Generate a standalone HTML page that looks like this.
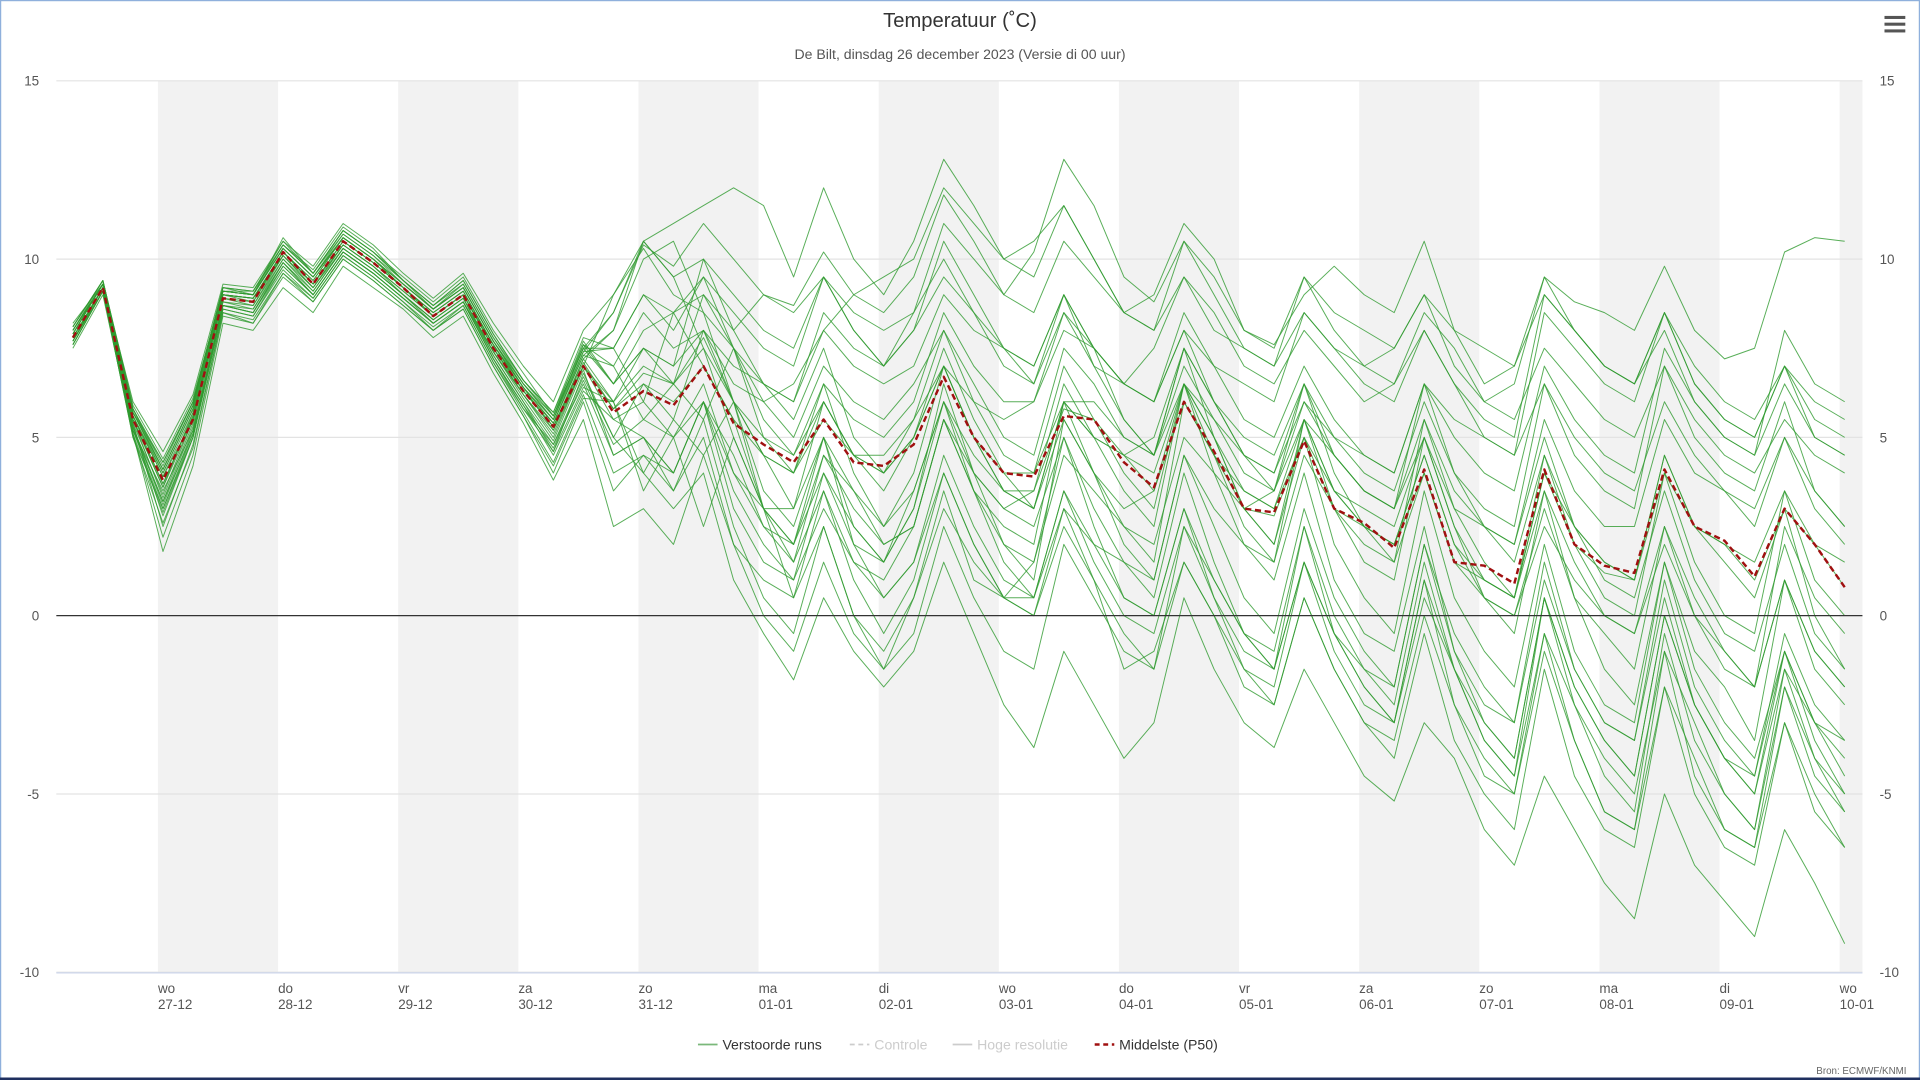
<!DOCTYPE html>
<html><head><meta charset="utf-8"><style>
html,body{margin:0;padding:0;background:#fff;width:1920px;height:1080px;overflow:hidden}
svg{display:block;font-family:"Liberation Sans","DejaVu Sans",sans-serif}
</style></head><body>
<svg id="chart" width="1920" height="1080" viewBox="0 0 1568 882" xmlns="http://www.w3.org/2000/svg">
<rect x="0.5" y="0.5" width="1567" height="881" fill="#fff" stroke="#8fb0dc" stroke-width="1"/>
<line x1="0" y1="881" x2="1568" y2="881" stroke="#1f2f5f" stroke-width="2"/>
<g id="bands"></g>
<g id="grid"></g>
<g id="members"></g>
<g id="median"></g>
<g id="axes"></g>
<text x="784" y="22" text-anchor="middle" font-size="16.5" fill="#333">Temperatuur (˚C)</text>
<text x="784" y="48" text-anchor="middle" font-size="11.5" fill="#555">De Bilt, dinsdag 26 december 2023 (Versie di 00 uur)</text>
<g>
<rect x="1539" y="13" width="17" height="2.5" fill="#555"/><rect x="1539" y="18.5" width="17" height="2.5" fill="#555"/><rect x="1539" y="24" width="17" height="2.5" fill="#555"/>
</g>
<g font-size="11.5">
<g><line x1="570" y1="853" x2="586" y2="853" stroke="#7ab87a" stroke-width="1.5"/><text x="590" y="857" fill="#333">Verstoorde runs</text></g>
<g><line x1="694" y1="853" x2="710" y2="853" stroke="#ccc" stroke-width="1.5" stroke-dasharray="4,3"/><text x="714" y="857" fill="#ccc">Controle</text></g>
<g><line x1="778" y1="853" x2="794" y2="853" stroke="#ccc" stroke-width="1.5"/><text x="798" y="857" fill="#ccc">Hoge resolutie</text></g>
<g><line x1="894" y1="853" x2="910" y2="853" stroke="#a01010" stroke-width="2" stroke-dasharray="4,3"/><text x="914" y="857" fill="#333">Middelste (P50)</text></g>
</g>
<text x="1557" y="877" text-anchor="end" font-size="8" fill="#666">Bron: ECMWF/KNMI</text>
</svg>
<script>
const dayNames = ["wo","do","vr","za","zo","ma","di","wo","do","vr","za","zo","ma","di","wo"];
const dayDates = ["27-12","28-12","29-12","30-12","31-12","01-01","02-01","03-01","04-01","05-01","06-01","07-01","08-01","09-01","10-01"];
const yTicks = [15,10,5,0,-5,-10];
const startHour = 7;
const stepHours = 6;
const median = [7.8,9.2,5.5,3.8,5.5,8.9,8.8,10.2,9.3,10.5,9.9,9.2,8.4,9.0,7.5,6.3,5.3,7.0,5.7,6.3,5.9,7.0,5.4,4.8,4.3,5.5,4.3,4.2,4.8,6.7,5.0,4.0,3.9,5.6,5.5,4.3,3.6,6.0,4.6,3.0,2.9,4.9,3.0,2.6,1.9,4.1,1.5,1.4,0.9,4.1,2.0,1.4,1.2,4.1,2.5,2.1,1.1,3.0,2.0,0.8];
const m01 = [8.0,9.4,5.8,4.2,6.0,9.2,9.0,10.6,9.6,10.8,10.2,9.5,8.8,9.5,8.0,6.8,5.6,7.5,8.5,10.4,9.8,11.0,10.0,9.0,8.7,10.2,9.0,8.5,9.5,11.8,10.5,9.0,10.2,12.8,11.5,9.5,8.8,10.5,9.5,8.0,7.6,9.0,9.8,9.0,8.5,10.5,8.0,6.5,7.0,9.5,8.8,8.5,8.0,9.8,8.0,7.2,7.5,10.2,10.6,10.5];
const m02 = [7.6,9.1,5.0,3.0,5.0,8.6,8.4,9.8,9.0,10.2,9.6,8.9,8.2,8.8,7.2,5.8,4.8,6.5,4.5,5.0,4.0,6.0,3.5,2.0,1.0,3.0,1.5,0.5,1.5,4.0,2.0,0.5,0.0,2.5,1.0,-0.5,-1.5,1.5,0.0,-1.5,-2.5,0.5,-1.5,-3.0,-4.0,-0.5,-3.5,-5.0,-6.0,-1.5,-4.5,-6.0,-6.5,-2.0,-5.0,-6.5,-7.0,-3.0,-5.5,-6.5];
const m03 = [8.2,9.3,6.0,4.6,6.2,9.3,9.2,10.5,9.8,11.0,10.4,9.6,8.9,9.6,8.2,7.0,6.0,8.0,9.0,10.5,9.5,10.0,8.0,6.5,5.5,7.5,5.0,4.0,5.5,8.0,6.0,4.5,4.0,7.0,5.5,4.0,3.0,6.5,5.0,3.0,2.0,5.0,2.0,0.5,-0.5,3.5,0.5,-1.0,-2.0,2.0,-1.0,-2.5,-3.0,1.5,-1.0,-2.0,-3.5,1.0,-1.5,-2.5];
const m04 = [7.7,9.2,5.3,3.2,5.3,8.8,8.6,9.9,9.1,10.3,9.7,9.0,8.3,8.9,7.3,6.0,4.6,6.8,5.0,6.5,5.5,8.0,7.0,6.5,6.0,8.5,7.5,7.0,8.0,9.5,8.5,7.5,7.0,9.0,7.5,5.5,4.5,7.5,6.0,4.5,3.5,6.5,4.0,2.5,1.5,5.5,3.0,1.5,0.5,4.5,2.0,0.5,0.0,4.0,1.5,0.0,-0.5,3.5,1.0,0.0];
const m05 = [7.9,9.3,5.6,3.9,5.5,9.0,8.9,10.1,9.3,10.4,9.8,9.1,8.4,9.0,7.6,6.4,5.2,7.2,6.0,7.0,6.5,7.5,5.0,3.0,2.0,5.0,2.5,1.5,3.0,6.5,4.0,2.0,1.0,5.5,4.0,2.5,1.5,6.0,4.5,2.5,1.5,5.5,4.5,3.5,3.0,6.5,5.0,4.0,3.5,7.0,5.5,4.5,4.0,7.5,6.0,5.0,4.5,8.0,6.5,6.0];
const m06 = [7.8,9.2,5.4,2.5,4.8,8.5,8.2,9.5,8.8,10.0,9.4,8.7,8.0,8.6,7.0,5.6,4.0,6.0,3.5,4.5,3.5,5.5,2.5,0.5,-0.5,2.5,0.0,-1.0,0.5,3.5,1.0,0.5,1.5,4.5,3.5,2.5,2.0,5.0,4.0,3.0,3.5,6.0,5.0,4.5,4.0,6.5,4.0,2.5,2.0,5.0,2.5,1.0,0.5,3.5,1.0,-0.5,-1.0,2.0,-0.5,-1.5];
const m07 = [8.1,9.4,5.9,4.4,6.1,9.1,9.1,10.4,9.7,10.9,10.3,9.4,8.7,9.4,7.9,6.6,5.7,7.8,7.5,9.0,8.5,9.5,8.5,7.5,7.0,9.5,8.0,7.0,8.0,10.5,9.0,7.5,6.5,9.0,7.0,5.5,4.5,7.5,5.0,3.0,2.0,5.5,3.0,1.5,1.0,5.0,2.5,0.5,-0.5,3.5,0.5,-1.5,-2.5,1.5,-1.5,-3.0,-4.0,-1.0,-3.0,-4.5];
const m08 = [7.5,9.0,5.1,1.8,4.2,8.2,8.0,9.2,8.5,9.8,9.2,8.6,7.8,8.4,6.8,5.4,3.8,5.5,2.5,3.0,2.0,4.5,2.0,1.0,0.5,3.5,1.5,1.0,2.5,5.5,3.5,2.0,1.5,5.0,3.0,1.5,0.5,4.0,1.5,-0.5,-1.5,2.5,0.0,-1.5,-2.5,1.5,-1.5,-3.5,-4.5,0.5,-2.5,-4.5,-5.5,-0.5,-3.5,-5.0,-6.0,-1.5,-4.0,-5.0];
const m09 = [8.0,9.3,5.7,4.0,5.8,9.1,9.0,10.3,9.5,10.6,10.0,9.3,8.6,9.2,7.7,6.5,5.5,7.6,7.0,8.5,7.5,8.0,6.0,4.5,4.0,6.5,5.5,5.0,6.0,8.5,7.0,6.0,6.0,8.0,7.5,6.5,6.0,8.5,7.0,5.5,5.0,7.0,5.5,4.5,4.0,6.5,5.5,5.0,4.5,8.5,7.5,6.5,6.0,8.5,6.5,5.5,5.0,7.0,5.5,5.0];
const m10 = [7.7,9.1,5.2,3.5,5.2,8.7,8.6,10.0,9.2,10.4,9.8,9.0,8.2,8.8,7.4,6.2,5.0,7.0,5.5,6.0,5.0,6.5,4.0,2.5,2.0,4.5,3.0,2.0,2.5,5.5,3.5,2.5,2.0,6.0,5.0,3.5,2.5,6.5,4.0,2.0,1.0,4.0,1.0,-0.5,-1.0,2.5,-1.0,-3.0,-4.0,0.5,-2.0,-3.5,-4.5,0.0,-2.5,-4.0,-5.0,-1.5,-3.0,-3.5];
const m11 = [7.9,9.3,5.5,3.6,5.7,9.0,8.9,10.2,9.4,10.6,10.0,9.2,8.5,9.1,7.6,6.3,5.4,7.3,8.0,10.0,10.5,8.5,7.5,6.0,5.0,7.0,6.0,5.5,6.5,8.0,6.5,5.0,4.5,7.5,6.5,5.0,4.5,7.0,5.5,4.0,3.5,5.5,3.5,2.5,2.0,4.5,2.0,1.0,0.5,4.0,2.5,1.5,1.0,4.5,2.5,2.0,1.5,3.5,2.0,1.5];
const m12 = [7.8,9.2,5.3,2.8,5.0,8.8,8.7,10.0,9.1,10.3,9.7,9.0,8.3,8.9,7.4,6.1,4.9,6.9,4.5,5.0,3.5,5.0,2.0,0.0,-1.0,1.5,-0.5,-1.5,0.5,3.0,1.5,0.5,0.5,3.0,2.0,1.5,1.0,4.5,3.0,2.0,1.5,4.5,3.0,2.0,1.5,4.0,1.5,0.5,0.0,3.0,0.5,-0.5,-1.5,2.5,0.0,-1.0,-2.0,2.5,0.5,-0.5];
const m13 = [8.1,9.4,5.8,4.1,5.9,9.2,9.1,10.5,9.6,10.7,10.1,9.4,8.7,9.3,7.8,6.6,5.6,7.5,6.5,7.5,7.0,8.0,6.5,6.0,6.5,8.0,9.0,9.5,10.0,12.0,11.0,10.0,10.5,11.5,10.0,8.5,8.0,9.5,8.0,7.5,7.0,8.5,7.5,7.0,7.5,9.0,8.0,7.5,7.0,9.0,8.0,7.0,6.5,8.0,6.0,5.0,4.5,6.5,5.0,4.5];
const m14 = [7.6,9.1,5.1,2.2,4.5,8.4,8.2,9.6,8.9,10.1,9.5,8.8,8.0,8.7,7.1,5.7,4.3,6.2,4.0,4.5,4.0,6.0,4.0,3.0,3.0,6.0,4.5,4.0,5.0,7.5,5.5,4.0,3.0,6.0,4.0,2.0,1.0,4.5,2.5,0.5,-0.5,3.0,0.5,-1.0,-2.0,2.0,-1.0,-2.5,-3.0,1.5,-1.5,-3.0,-3.5,1.0,-2.0,-3.5,-4.5,-0.5,-2.5,-3.5];
const m15 = [8.0,9.3,5.6,3.7,5.6,9.0,8.9,10.2,9.3,10.5,9.9,9.2,8.4,9.0,7.5,6.3,5.3,7.1,5.8,6.5,6.0,7.0,5.5,4.5,4.0,5.5,4.5,4.5,5.5,7.0,5.0,4.0,4.0,6.0,6.0,5.0,4.5,6.5,5.0,3.5,3.0,5.5,3.5,3.0,2.5,5.0,3.0,2.5,2.0,5.5,3.5,2.5,2.5,5.5,4.0,3.5,2.5,5.0,3.5,2.5];
const m16 = [7.8,9.2,5.5,3.3,5.4,8.9,8.7,10.1,9.2,10.3,9.7,9.0,8.3,8.9,7.4,6.2,5.1,7.0,9.0,10.3,9.0,8.5,6.0,3.5,2.5,5.0,2.0,0.5,1.5,4.5,2.5,1.0,0.5,3.5,2.0,0.5,0.0,3.0,1.0,-0.5,-1.0,2.5,-0.5,-2.0,-3.0,1.0,-2.5,-4.0,-5.0,-0.5,-3.5,-5.5,-6.0,-1.0,-4.5,-6.0,-6.5,-2.0,-4.5,-5.5];
const m17 = [7.9,9.3,5.4,3.4,5.5,9.0,8.8,10.1,9.2,10.4,9.8,9.1,8.4,9.0,7.5,6.2,5.2,7.0,6.0,7.5,7.0,10.0,9.0,8.0,7.5,9.5,8.5,8.0,8.5,10.0,8.5,7.0,6.5,8.5,7.0,6.5,6.0,8.0,6.0,4.5,4.0,6.5,5.0,4.0,3.5,6.0,4.0,3.0,2.5,6.5,4.5,3.5,3.0,7.0,5.0,4.0,3.5,6.0,3.5,2.5];
const m18 = [7.7,9.2,5.2,3.0,5.1,8.7,8.5,9.9,9.0,10.2,9.6,8.9,8.2,8.8,7.2,5.9,4.7,6.6,4.8,5.5,5.0,6.0,3.0,1.5,1.0,4.0,2.0,1.5,3.0,6.0,4.5,3.5,3.0,6.0,5.0,4.5,4.0,6.5,5.5,4.5,4.0,6.0,4.5,3.5,3.0,5.5,3.5,2.5,1.5,4.5,2.5,1.5,1.0,4.5,2.5,1.5,0.5,3.0,0.0,-1.5];
const m19 = [8.0,9.3,5.7,4.3,6.0,9.1,9.0,10.4,9.6,10.8,10.2,9.4,8.6,9.3,7.8,6.5,5.6,7.7,6.5,8.0,8.5,9.0,7.5,5.5,4.5,6.5,4.0,2.5,3.5,6.0,3.5,1.5,0.5,3.5,1.5,0.0,-0.5,2.5,0.5,-1.0,-1.5,1.5,-0.5,-1.5,-2.0,2.0,-0.5,-2.0,-3.0,1.0,-1.5,-3.0,-3.5,0.5,-2.5,-4.0,-4.5,-1.0,-3.0,-4.0];
const m20 = [7.8,9.2,5.5,3.6,5.5,8.9,8.8,10.2,9.3,10.5,9.9,9.2,8.4,9.0,7.5,6.3,5.3,7.0,5.8,6.8,6.5,7.8,6.0,5.0,4.5,6.0,4.5,4.0,5.0,7.0,5.0,3.5,3.5,5.8,5.5,4.5,3.5,6.5,4.5,3.0,2.8,5.0,3.0,2.5,2.0,4.0,1.5,1.0,0.5,4.0,2.0,1.2,1.0,4.0,2.5,2.0,1.0,3.0,2.0,0.8];
const m21 = [7.9,9.3,5.6,4.0,5.8,9.1,9.0,10.3,9.5,10.6,10.0,9.3,8.6,9.2,7.7,6.4,5.4,7.4,8.5,10.5,11.0,11.5,12.0,11.5,9.5,12.0,10.0,9.0,10.5,12.8,11.5,10.0,9.5,11.5,10.0,8.5,8.0,10.5,9.0,7.5,7.0,9.5,8.5,8.0,7.5,9.0,7.0,6.0,6.5,9.5,8.0,7.0,6.5,8.5,6.5,5.5,5.0,7.0,6.0,5.5];
const m22 = [7.7,9.2,5.3,3.1,5.2,8.7,8.5,9.9,9.0,10.2,9.6,8.9,8.2,8.8,7.3,6.0,4.8,6.7,5.0,4.0,3.0,4.0,1.0,-0.5,-1.8,0.5,-1.0,-2.0,-1.0,1.5,-0.5,-2.5,-3.7,-1.0,-2.5,-4.0,-3.0,0.5,-1.5,-3.0,-3.7,-1.5,-3.0,-4.5,-5.2,-3.0,-4.0,-6.0,-7.0,-4.5,-6.0,-7.5,-8.5,-5.0,-7.0,-8.0,-9.0,-6.0,-7.5,-9.2];
const m23 = [8.0,9.3,5.7,4.1,5.9,9.1,9.0,10.3,9.5,10.7,10.1,9.3,8.6,9.2,7.7,6.4,5.5,7.4,7.5,6.0,8.5,7.0,5.5,3.0,1.5,3.5,1.0,-0.5,1.0,4.0,2.0,0.5,0.0,3.0,1.0,-1.5,-1.0,1.5,0.0,-2.0,-2.5,0.5,-1.5,-3.0,-3.5,0.0,-2.5,-4.5,-5.0,-1.0,-3.5,-5.5,-6.0,-2.0,-4.0,-6.0,-6.5,-3.0,-5.0,-6.5];
const m24 = [7.8,9.2,5.5,3.7,5.6,9.0,8.9,10.2,9.3,10.5,9.9,9.2,8.5,9.1,7.6,6.3,5.3,7.2,8.0,10.5,9.5,7.5,6.0,4.5,3.0,5.0,3.5,2.5,4.0,7.0,6.0,5.5,6.0,8.5,7.5,6.5,7.5,9.5,8.5,7.0,6.5,8.0,7.0,6.0,6.5,8.5,7.5,6.0,5.5,7.5,6.5,5.5,5.0,7.0,5.5,4.5,4.0,5.5,4.5,4.0];
const m25 = [7.6,9.1,5.1,2.9,5.0,8.6,8.4,9.7,8.9,10.1,9.5,8.8,8.1,8.7,7.1,5.8,4.6,6.4,6.0,3.5,5.0,2.5,5.0,3.0,2.0,4.0,2.5,1.5,3.5,6.0,4.0,3.0,3.5,6.5,5.0,4.5,5.0,7.5,6.0,5.0,4.5,6.5,4.5,3.5,3.0,5.0,2.5,1.0,0.5,3.5,1.5,0.0,-0.5,2.5,0.5,-1.0,-2.0,1.0,-1.0,-2.0];
const m26 = [8.1,9.4,5.8,4.3,6.0,9.2,9.1,10.4,9.6,10.8,10.2,9.4,8.7,9.4,7.9,6.6,5.7,7.6,6.5,7.5,6.5,9.0,8.0,9.0,8.5,9.5,8.0,7.0,8.5,11.0,10.0,9.0,8.5,10.5,9.5,8.5,9.0,11.0,10.0,8.0,7.5,9.5,8.0,7.0,6.5,8.0,6.5,5.0,4.5,6.5,5.0,4.0,3.5,6.0,4.5,3.5,3.0,5.0,3.0,2.0];
const m27 = [7.7,9.1,5.2,3.2,5.1,8.7,8.5,9.8,9.0,10.2,9.6,8.9,8.2,8.8,7.2,5.9,4.5,6.3,5.5,5.0,4.0,6.0,4.5,2.5,1.5,4.5,3.5,2.0,2.5,5.5,4.0,3.0,2.5,5.0,2.5,0.5,0.0,3.0,0.5,-1.5,-2.0,1.5,-1.0,-2.5,-3.0,1.0,-1.5,-3.0,-4.0,0.5,-2.0,-3.5,-4.5,0.0,-2.5,-4.0,-5.0,-1.0,-3.5,-5.0];
const m28 = [7.9,9.3,5.6,3.9,5.7,9.0,8.9,10.2,9.4,10.6,10.0,9.2,8.5,9.1,7.6,6.4,5.4,7.3,7.0,5.5,6.5,5.5,7.5,6.5,6.0,8.0,7.0,6.5,7.0,9.0,8.0,7.5,7.0,9.0,7.5,6.5,6.0,8.0,7.0,6.5,6.0,8.5,7.5,6.5,6.0,8.0,6.5,5.5,5.0,9.0,8.0,7.0,6.5,8.5,7.0,6.0,5.5,7.0,5.0,4.5];
const m29 = [7.6,9.1,5.0,2.6,4.7,8.5,8.3,9.6,8.8,10.0,9.4,8.7,8.0,8.6,7.0,5.6,4.2,6.1,6.0,4.0,5.5,4.5,6.0,3.0,0.5,2.5,0.0,-1.5,-0.5,2.5,0.5,-1.0,-1.5,2.0,0.5,-1.0,-1.5,2.5,1.0,-0.5,-1.5,1.5,-0.5,-2.0,-3.0,0.5,-1.5,-3.5,-4.5,-0.5,-2.5,-4.0,-5.0,-1.0,-3.0,-5.0,-6.0,-2.0,-4.0,-5.5];
const m30 = [8.0,9.3,5.7,4.1,5.9,9.1,9.0,10.3,9.5,10.6,10.0,9.3,8.6,9.2,7.7,6.5,5.5,7.5,7.5,9.0,8.0,9.5,7.5,5.0,4.0,6.0,4.5,3.5,5.0,7.0,5.0,3.5,3.0,5.5,4.0,3.0,3.5,6.0,4.5,3.5,3.0,5.0,3.5,2.5,2.0,4.5,2.0,0.5,0.0,2.5,1.0,0.0,-0.5,2.0,0.0,-1.5,-2.0,1.0,-1.0,-2.0];
const members = [m01,m02,m03,m04,m05,m06,m07,m08,m09,m10,m11,m12,m13,m14,m15,m16,m17,m18,m19,m20,m21,m22,m23,m24,m25,m26,m27,m28,m29,m30];

const NS = "http://www.w3.org/2000/svg";
const plotL = 46, plotR = 1521, plotT = 66, plotB = 794;
const yMin = -10, yMax = 15;
const dayPx = 98.1, firstMidnightX = 129;
function xScale(h){ return firstMidnightX + (h - 24) / 24 * dayPx; }
function yScale(v){ return plotB - (v - yMin) / (yMax - yMin) * (plotB - plotT); }
function mk(tag, attrs, parent){ const e = document.createElementNS(NS, tag); for (const k in attrs) e.setAttribute(k, attrs[k]); parent.appendChild(e); return e; }

const bands = document.getElementById('bands');
for (let d = 0; d < dayNames.length; d += 2) {
  const x0 = xScale(24 + d * 24), x1 = Math.min(xScale(48 + d * 24), plotR);
  const r = mk('rect', {x: x0, y: plotT, width: x1 - x0, height: plotB - plotT, fill: '#f2f2f2'}, bands);
  
  
}
const grid = document.getElementById('grid');
const axes = document.getElementById('axes');
yTicks.forEach(v => {
  const y = yScale(v);
  const gl = mk('line', {x1: plotL, x2: plotR, y1: y, y2: y, stroke: v === 0 ? '#333' : '#e3e3e3', 'stroke-width': 1}, v === 0 ? axes : grid);
  
  
  const tl = mk('text', {x: 32, y: y + 4, 'text-anchor': 'end', 'font-size': 11, fill: '#555'}, axes);
  tl.textContent = v;
  
  
  const tr = mk('text', {x: 1535, y: y + 4, 'text-anchor': 'start', 'font-size': 11, fill: '#555'}, axes);
  tr.textContent = v;
  
  
});
const xa = mk('line', {x1: plotL, x2: plotR, y1: plotB + 0.5, y2: plotB + 0.5, stroke: '#ccd6eb', 'stroke-width': 1}, axes);


dayNames.forEach((n, i) => {
  const x = xScale(24 + i * 24);
  const t = mk('text', {x: x, y: 811, 'font-size': 11, fill: '#555'}, axes);
  t.textContent = n;
  
  
  const t2 = mk('text', {x: x, y: 824, 'font-size': 11, fill: '#555'}, axes);
  t2.textContent = dayDates[i];
  
  
});
function pathFor(arr){ return arr.map((v, i) => (i ? 'L' : 'M') + xScale(startHour + i * stepHours).toFixed(1) + ' ' + yScale(v).toFixed(1)).join(' '); }
const mg = document.getElementById('members');
members.forEach(arr => {
  const p = mk('path', {d: pathFor(arr), fill: 'none', stroke: '#2e9a2e', 'stroke-width': 0.8, 'stroke-opacity': 0.8, 'stroke-linejoin': 'round'}, mg);
  
  
});
const md = mk('path', {d: pathFor(median), fill: 'none', stroke: '#a01010', 'stroke-width': 2, 'stroke-dasharray': '5,3', 'stroke-linejoin': 'round'}, document.getElementById('median'));


</script>
</body></html>
